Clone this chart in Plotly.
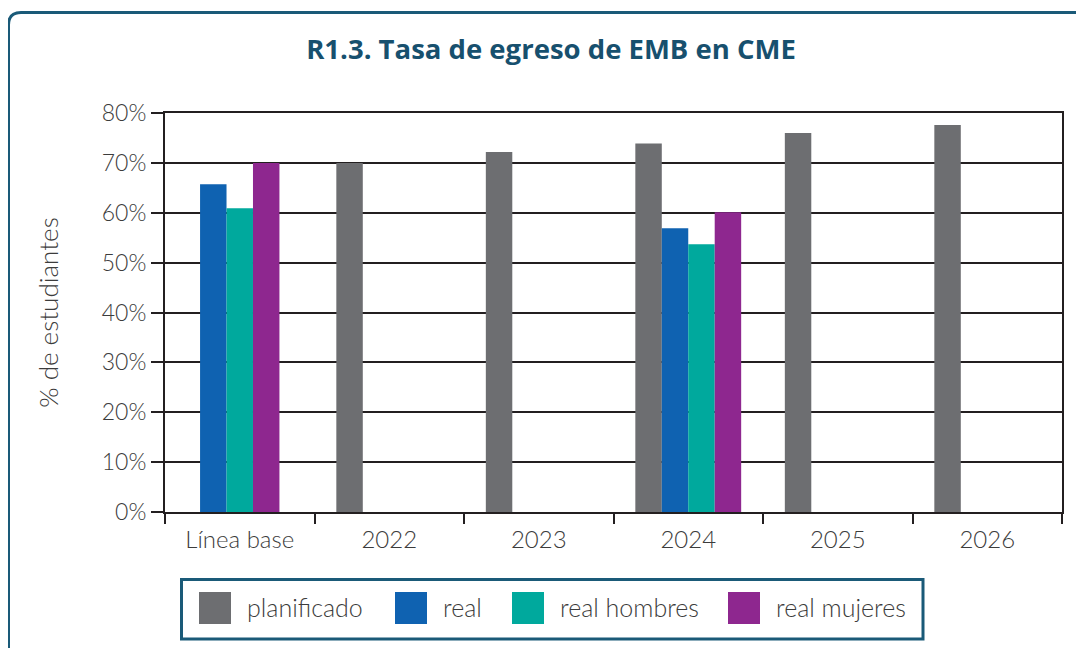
import plotly.graph_objects as go

categorias = ["Línea base", "2022", "2023", "2024", "2025", "2026"]
planificado = [None, 70.0, 72.2, 73.9, 76.0, 77.6]
real = [65.7, None, None, 56.9, None, None]
real_hombres = [60.9, None, None, 53.7, None, None]
real_mujeres = [70.0, None, None, 60.1, None, None]

series = [
    ("planificado", planificado, "#6d6e71"),
    ("real", real, "#0f62b1"),
    ("real hombres", real_hombres, "#00a99d"),
    ("real mujeres", real_mujeres, "#8e278f"),
]

# la página añade 8px de margen al body: se compensa aquí
OFF = 8
W, H = 1084 - OFF, 648 - OFF
L, R, T, B = 165 - OFF, 22, 113 - OFF, 136
TEAL = "#1a5a78"
TXT = "#3c3c3c"
FONT = "Lato, 'Open Sans', 'Noto Sans', sans-serif"

# ancho de barra y desplazamientos (unidades de categoría)
bw = 0.177
offsets = {
    "planificado": [-2 * bw] * 6,
    "real": [-1.5 * bw, -bw, -bw, -bw, -bw, -bw],
    "real hombres": [-0.5 * bw, 0, 0, 0, 0, 0],
    "real mujeres": [0.5 * bw, bw, bw, bw, bw, bw],
}


def px(x):
    return (x - OFF - L) / (W - L - R)


def py(y):
    return (H - B - (y - OFF)) / (H - T - B)


fig = go.Figure()
for name, vals, color in series:
    fig.add_trace(go.Bar(
        x=categorias, y=vals, name=name,
        marker=dict(color=color, line=dict(width=0)),
        width=bw, offset=offsets[name],
        showlegend=False,
    ))

shapes = []
annotations = []

# marco exterior redondeado
shapes.append(dict(
    type="path", xref="paper", yref="paper",
    path=(f"M {px(8.5)},{py(700)} L {px(8.5)},{py(25)} "
          f"Q {px(8.5)},{py(12.5)} {px(21)},{py(12.5)} L {px(1100)},{py(12.5)}"),
    line=dict(color=TEAL, width=3), layer="below",
))

# leyenda manual
shapes.append(dict(
    type="rect", xref="paper", yref="paper",
    x0=px(181.5), x1=px(923), y0=py(579.5), y1=py(639),
    line=dict(color=TEAL, width=3),
))
sw_x = [199, 395, 512, 728]
for (name, vals, color), x0 in zip(series, sw_x):
    shapes.append(dict(
        type="rect", xref="paper", yref="paper",
        x0=px(x0), x1=px(x0 + 32), y0=py(592), y1=py(624),
        fillcolor=color, line=dict(width=0),
    ))
    annotations.append(dict(
        text=name, xref="paper", yref="paper",
        x=px(x0 + 46), y=py(607), xanchor="left", yanchor="middle",
        showarrow=False, font=dict(size=25, color=TXT, family=FONT, weight=300),
    ))

fig.update_layout(
    width=W, height=H,
    margin=dict(l=L, r=R, t=T, b=B),
    paper_bgcolor="white", plot_bgcolor="white",
    title=dict(
        text="<b>R1.3. Tasa de egreso de EMB en CME</b>",
        x=px(551), xanchor="center", y=1 - (49 - OFF) / H, yanchor="middle",
        font=dict(size=27.5, color="#17506e", family="'Open Sans', Lato, sans-serif"),
    ),
    font=dict(family=FONT, color=TXT, size=22, weight=300),
    barmode="overlay",
    shapes=shapes,
    annotations=annotations,
)
fig.layout.title.xref = "paper"

fig.update_xaxes(
    showline=True, linecolor="#231f20", linewidth=2, mirror=True,
    ticks="outside", tickson="boundaries", ticklen=10, tickwidth=1.5, tickcolor="#231f20",
    showgrid=False, ticklabelstandoff=5,
    tickfont=dict(size=24, color=TXT, family=FONT, weight=300),
)
fig.update_yaxes(
    range=[0, 80], dtick=10, ticksuffix="%",
    showline=True, linecolor="#231f20", linewidth=2, mirror=True,
    ticks="outside", ticklen=12, tickwidth=1.5, tickcolor="#231f20",
    showgrid=True, gridcolor="#231f20", gridwidth=2, zeroline=False,
    tickfont=dict(size=23, color=TXT, family=FONT, weight=300),
    title=dict(text="% de estudiantes", standoff=36,
               font=dict(size=26, color=TXT, family=FONT, weight=300)),
)

fig.write_html("out.html")
